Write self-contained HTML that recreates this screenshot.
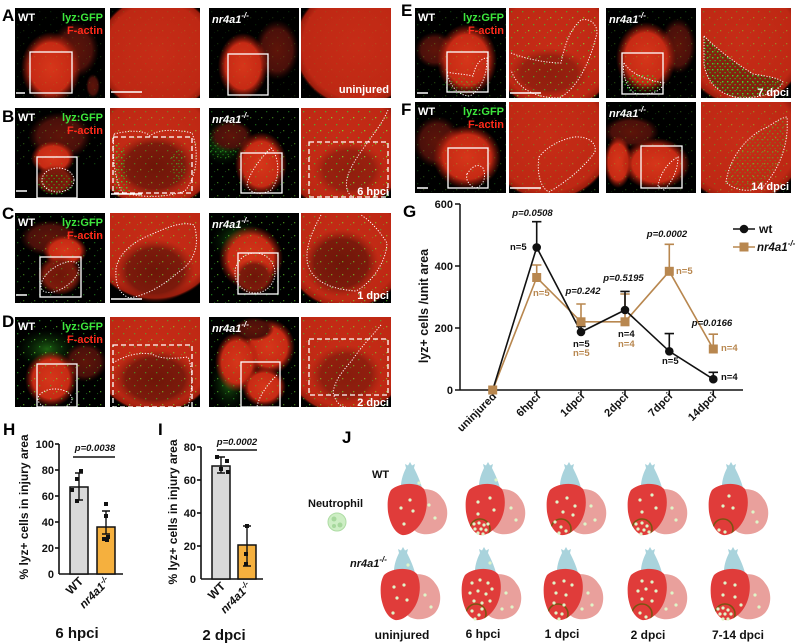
<!DOCTYPE html>
<html><head><meta charset="utf-8"><style>
html,body{margin:0;padding:0;background:#fff;}
svg{display:block;font-family:"Liberation Sans",Arial,sans-serif;}
.wl{fill:#fff;font-weight:bold;font-size:11px;}
.gl{fill:#3ce63c;font-weight:bold;font-size:11px;}
.rl{fill:#ff2a1a;font-weight:bold;font-size:11px;}
.pl{font-weight:bold;font-size:17px;fill:#000;}
.tk{font-weight:bold;font-size:11px;fill:#111;}
.pv{font-weight:bold;font-style:italic;font-size:9.5px;fill:#111;}
.nb{font-weight:bold;font-size:9.5px;fill:#111;}
.nn{font-weight:bold;font-size:9.5px;fill:#b8874f;}
.jl{font-weight:bold;font-size:12px;fill:#111;}
</style></head><body>
<svg width="799" height="644" viewBox="0 0 799 644" xmlns="http://www.w3.org/2000/svg">
<defs>
<radialGradient id="hr"><stop offset="0" stop-color="#d6361a"/><stop offset="0.7" stop-color="#c62a14"/><stop offset="1" stop-color="#a01808" stop-opacity="0"/></radialGradient>
<radialGradient id="dm"><stop offset="0" stop-color="#5e1409"/><stop offset="0.7" stop-color="#4a100a"/><stop offset="1" stop-color="#300804" stop-opacity="0"/></radialGradient>
<radialGradient id="dk"><stop offset="0" stop-color="#6e1608"/><stop offset="0.7" stop-color="#7c1a0c"/><stop offset="1" stop-color="#9a200e" stop-opacity="0"/></radialGradient>
<radialGradient id="fz"><stop offset="0" stop-color="#c62c16"/><stop offset="0.85" stop-color="#be2814"/><stop offset="0.95" stop-color="#9a1c0c"/><stop offset="1" stop-color="#000" stop-opacity="0"/></radialGradient>
<radialGradient id="gh"><stop offset="0" stop-color="#2a8a1a" stop-opacity="0.7"/><stop offset="1" stop-color="#0a3a08" stop-opacity="0"/></radialGradient>
<pattern id="gs" width="11" height="13" patternUnits="userSpaceOnUse"><rect x="2" y="3" width="1.3" height="1.3" fill="#3c3"/><rect x="8" y="9" width="1.3" height="1.3" fill="#7e3"/><rect x="5" y="11" width="1.1" height="1.1" fill="#4d4" opacity="0.6"/></pattern>
<pattern id="gd" width="5" height="6" patternUnits="userSpaceOnUse"><rect x="1" y="1" width="1.4" height="1.4" fill="#3d3"/><rect x="3.5" y="4" width="1.2" height="1.2" fill="#2c2"/></pattern>
<clipPath id="vc"><path d="M3,28 C12,20 30,20 36,27 C41,37 39,52 33,61 C28,69 20,74 14,73 C7,71 2,62 0,50 C-1,40 0,33 3,28 Z"/></clipPath>
<g id="hb">
<path d="M22,32 C32,24 48,26 54,36 C61,44 61,58 54,66 C46,74 32,74 26,68 C20,58 18,42 22,32 Z" fill="#e9a09c"/>
<path d="M13,30 C12,20 15,12 18,6 L17,2 L20,3.5 L22,0 L24,3.5 L27,2 L26,6 C29,12 33,20 35,30 Z" fill="#a9d3dc"/>
<path d="M3,28 C12,20 30,20 36,27 C41,37 39,52 33,61 C28,69 20,74 14,73 C7,71 2,62 0,50 C-1,40 0,33 3,28 Z" fill="#e03c3a"/>
</g>
<g id="inj"><circle cx="14" cy="67" r="10" fill="none" stroke="#7a5412" stroke-width="1.6" clip-path="url(#vc)"/></g>
</defs>

<text class="pl" x="2" y="21">A</text>
<text class="pl" x="2" y="122">B</text>
<text class="pl" x="2" y="219">C</text>
<text class="pl" x="2" y="327">D</text>
<text class="pl" x="401" y="16">E</text>
<text class="pl" x="401" y="115">F</text>
<text class="pl" x="403" y="217">G</text>
<text class="pl" x="3" y="435">H</text>
<text class="pl" x="158" y="435">I</text>
<text class="pl" x="342" y="443">J</text>

<!-- Row A -->
<svg x="15" y="8" width="90" height="90" viewBox="0 0 90 90">
<rect width="90" height="90" fill="#000"/>
<ellipse cx="60" cy="42" rx="24" ry="28" fill="url(#dm)"/>
<ellipse cx="78" cy="78" rx="7" ry="12" fill="url(#dm)"/>
<ellipse cx="36" cy="60" rx="30" ry="36" fill="url(#hr)"/>
<rect width="90" height="90" fill="url(#gs)" opacity="0.15"/>
<rect x="15" y="44" width="42" height="41" fill="none" stroke="#fff" stroke-width="1.3"/>
<line x1="1" y1="85" x2="10" y2="85" stroke="#fff" stroke-width="1.5"/>
<text class="wl" x="3" y="13">WT</text><text class="gl" x="88" y="13" text-anchor="end">lyz:GFP</text><text class="rl" x="88" y="26" text-anchor="end">F-actin</text>
</svg>
<svg x="110" y="8" width="90" height="90" viewBox="0 0 90 90">
<rect width="90" height="90" fill="#000"/>
<ellipse cx="48" cy="46" rx="62" ry="60" fill="url(#fz)"/>
<rect width="90" height="90" fill="url(#gs)" opacity="0.15"/>
<line x1="1" y1="84" x2="32" y2="84" stroke="#fff" stroke-width="1.5"/>
</svg>
<svg x="209" y="8" width="90" height="90" viewBox="0 0 90 90">
<rect width="90" height="90" fill="#000"/>
<ellipse cx="68" cy="42" rx="22" ry="30" fill="url(#dm)"/>
<ellipse cx="34" cy="58" rx="25" ry="33" fill="url(#hr)"/>
<rect width="90" height="90" fill="url(#gs)" opacity="0.15"/>
<rect x="19" y="46" width="40" height="41" fill="none" stroke="#fff" stroke-width="1.3"/>
<text class="wl" x="3" y="15" font-style="italic">nr4a1<tspan dy="-5" font-size="8">-/-</tspan></text>
</svg>
<svg x="301" y="8" width="90" height="90" viewBox="0 0 90 90">
<rect width="90" height="90" fill="#000"/>
<ellipse cx="56" cy="38" rx="64" ry="62" fill="url(#fz)"/>
<rect width="90" height="90" fill="url(#gs)" opacity="0.12"/>
<text class="wl" x="88" y="85" text-anchor="end">uninjured</text>
</svg>

<!-- Row B -->
<svg x="15" y="108" width="90" height="90" viewBox="0 0 90 90">
<rect width="90" height="90" fill="#000"/>
<ellipse cx="45" cy="28" rx="32" ry="24" fill="url(#dm)"/>
<ellipse cx="38" cy="50" rx="22" ry="17" fill="url(#hr)"/>
<ellipse cx="40" cy="72" rx="20" ry="15" fill="url(#dk)"/>
<ellipse cx="40" cy="76" rx="18" ry="11" fill="url(#gd)" opacity="0.7"/>
<rect width="90" height="60" fill="url(#gs)" opacity="0.3"/>
<rect x="22" y="49" width="40" height="41" fill="none" stroke="#fff" stroke-width="1.3"/>
<ellipse cx="43" cy="72" rx="16" ry="12" fill="none" stroke="#fff" stroke-width="1" stroke-dasharray="1.2 1.6"/>
<line x1="1" y1="83" x2="12" y2="83" stroke="#fff" stroke-width="1.5"/>
<text class="wl" x="3" y="13">WT</text><text class="gl" x="88" y="13" text-anchor="end">lyz:GFP</text><text class="rl" x="88" y="26" text-anchor="end">F-actin</text>
</svg>
<svg x="110" y="108" width="90" height="90" viewBox="0 0 90 90">
<rect width="90" height="90" fill="#000"/>
<ellipse cx="46" cy="40" rx="66" ry="62" fill="url(#fz)"/>
<ellipse cx="45" cy="58" rx="42" ry="32" fill="url(#dk)"/>
<rect width="90" height="90" fill="url(#gs)" opacity="0.5"/>
<path d="M4,35 L14,40 L18,80 L30,88 L4,88 Z" fill="url(#gd)" opacity="0.9"/>
<path d="M60,45 L72,40 L76,70 L64,75 Z" fill="url(#gd)" opacity="0.6"/>
<rect x="3" y="29" width="79" height="56" fill="none" stroke="#fff" stroke-width="1.3" stroke-dasharray="5 3"/>
<path d="M4,26 C20,22 34,22 40,28 C48,20 70,22 82,25 C90,45 86,70 75,83 C55,90 30,90 12,84 C4,70 2,45 4,26 Z" fill="none" stroke="#fff" stroke-width="1" stroke-dasharray="1.2 1.6"/>
<line x1="1" y1="86" x2="32" y2="86" stroke="#fff" stroke-width="1.5"/>
</svg>
<svg x="209" y="108" width="90" height="90" viewBox="0 0 90 90">
<rect width="90" height="90" fill="#000"/>
<ellipse cx="15" cy="35" rx="24" ry="22" fill="url(#gh)"/>
<ellipse cx="15" cy="35" rx="20" ry="15" fill="url(#gd)" opacity="0.5"/>
<ellipse cx="22" cy="28" rx="22" ry="16" fill="url(#dm)"/>
<ellipse cx="52" cy="56" rx="26" ry="32" fill="url(#hr)"/>
<rect width="90" height="90" fill="url(#gs)" opacity="0.45"/>
<rect x="32" y="45" width="41" height="40" fill="none" stroke="#fff" stroke-width="1.3"/>
<path d="M62,40 C70,48 72,70 62,82 C52,88 40,86 38,76 C42,62 52,50 62,40 Z" fill="none" stroke="#fff" stroke-width="1" stroke-dasharray="1.2 1.6"/>
<text class="wl" x="3" y="15" font-style="italic">nr4a1<tspan dy="-5" font-size="8">-/-</tspan></text>
</svg>
<svg x="301" y="108" width="90" height="90" viewBox="0 0 90 90">
<rect width="90" height="90" fill="#000"/>
<ellipse cx="42" cy="40" rx="66" ry="64" fill="url(#fz)"/>
<ellipse cx="48" cy="62" rx="36" ry="28" fill="url(#dk)" opacity="0.6"/>
<rect width="90" height="90" fill="url(#gs)" opacity="0.8"/>
<rect x="8" y="34" width="79" height="55" fill="none" stroke="#fff" stroke-width="1.3" stroke-dasharray="5 3"/>
<path d="M87,2 C80,20 60,40 50,60 C42,75 45,88 55,90" fill="none" stroke="#fff" stroke-width="1" stroke-dasharray="1.2 1.6"/>
<text class="wl" x="88" y="87" text-anchor="end">6 hpci</text>
</svg>

<!-- Row C -->
<svg x="15" y="213" width="90" height="90" viewBox="0 0 90 90">
<rect width="90" height="90" fill="#000"/>
<ellipse cx="35" cy="25" rx="30" ry="18" fill="url(#dm)"/>
<ellipse cx="50" cy="38" rx="22" ry="16" fill="url(#hr)"/>
<ellipse cx="45" cy="62" rx="22" ry="20" fill="url(#dk)"/>
<rect width="90" height="90" fill="url(#gs)" opacity="0.45"/>
<rect x="25" y="44" width="41" height="40" fill="none" stroke="#fff" stroke-width="1.3"/>
<ellipse cx="45" cy="64" rx="22" ry="11" transform="rotate(-35 45 64)" fill="none" stroke="#fff" stroke-width="1" stroke-dasharray="1.2 1.6"/>
<line x1="1" y1="82" x2="12" y2="82" stroke="#fff" stroke-width="1.5"/>
<text class="wl" x="3" y="13">WT</text><text class="gl" x="88" y="13" text-anchor="end">lyz:GFP</text><text class="rl" x="88" y="26" text-anchor="end">F-actin</text>
</svg>
<svg x="110" y="213" width="90" height="90" viewBox="0 0 90 90">
<rect width="90" height="90" fill="#000"/>
<ellipse cx="45" cy="30" rx="66" ry="58" fill="url(#fz)"/>
<ellipse cx="45" cy="58" rx="40" ry="32" fill="url(#dk)"/>
<rect width="90" height="70" fill="url(#gs)" opacity="0.55"/>
<path d="M6,62 C4,45 20,30 40,22 C58,14 72,8 84,12 C90,30 85,48 70,58 C60,66 45,80 20,85 C10,82 6,72 6,62 Z" fill="none" stroke="#fff" stroke-width="1" stroke-dasharray="1.2 1.6"/>
<line x1="1" y1="86" x2="32" y2="86" stroke="#fff" stroke-width="1.5"/>
</svg>
<svg x="209" y="213" width="90" height="90" viewBox="0 0 90 90">
<rect width="90" height="90" fill="#000"/>
<ellipse cx="30" cy="28" rx="28" ry="22" fill="url(#gh)"/>
<ellipse cx="42" cy="45" rx="32" ry="32" fill="url(#hr)"/>
<ellipse cx="45" cy="64" rx="20" ry="18" fill="url(#dk)"/>
<rect width="90" height="90" fill="url(#gs)" opacity="0.55"/>
<rect x="29" y="40" width="40" height="41" fill="none" stroke="#fff" stroke-width="1.3"/>
<circle cx="46" cy="60" r="20" fill="none" stroke="#fff" stroke-width="1" stroke-dasharray="1.2 1.6"/>
<text class="wl" x="3" y="15" font-style="italic">nr4a1<tspan dy="-5" font-size="8">-/-</tspan></text>
</svg>
<svg x="301" y="213" width="90" height="90" viewBox="0 0 90 90">
<rect width="90" height="90" fill="#000"/>
<ellipse cx="45" cy="35" rx="64" ry="62" fill="url(#fz)"/>
<ellipse cx="40" cy="50" rx="38" ry="34" fill="url(#dk)"/>
<rect width="90" height="90" fill="url(#gs)" opacity="0.6"/>
<path d="M20,2 C10,20 2,40 8,55 C14,68 28,76 55,78 C70,70 85,50 86,30 C80,20 70,8 60,2" fill="none" stroke="#fff" stroke-width="1" stroke-dasharray="1.2 1.6"/>
<text class="wl" x="88" y="86" text-anchor="end">1 dpci</text>
</svg>

<!-- Row D -->
<svg x="15" y="317" width="90" height="90" viewBox="0 0 90 90">
<rect width="90" height="90" fill="#000"/>
<ellipse cx="32" cy="32" rx="30" ry="20" fill="url(#gh)"/>
<ellipse cx="70" cy="45" rx="22" ry="20" fill="url(#dm)"/>
<ellipse cx="36" cy="62" rx="26" ry="28" fill="url(#hr)"/>
<rect width="90" height="90" fill="url(#gs)" opacity="0.6"/>
<rect x="22" y="47" width="40" height="43" fill="none" stroke="#fff" stroke-width="1.3"/>
<ellipse cx="40" cy="82" rx="17" ry="10" fill="none" stroke="#fff" stroke-width="1" stroke-dasharray="1.2 1.6"/>
<text class="wl" x="3" y="13">WT</text><text class="gl" x="88" y="13" text-anchor="end">lyz:GFP</text><text class="rl" x="88" y="26" text-anchor="end">F-actin</text>
</svg>
<svg x="110" y="317" width="90" height="90" viewBox="0 0 90 90">
<rect width="90" height="90" fill="#000"/>
<ellipse cx="45" cy="35" rx="66" ry="62" fill="url(#fz)"/>
<ellipse cx="45" cy="62" rx="42" ry="30" fill="url(#dk)"/>
<rect width="90" height="90" fill="url(#gs)" opacity="0.6"/>
<rect x="3" y="28" width="79" height="62" fill="none" stroke="#fff" stroke-width="1.3" stroke-dasharray="5 3"/>
<path d="M3,46 C15,38 30,35 42,37 C50,42 62,42 78,40 C84,55 82,75 78,90" fill="none" stroke="#fff" stroke-width="1" stroke-dasharray="1.2 1.6"/>
</svg>
<svg x="209" y="317" width="90" height="90" viewBox="0 0 90 90">
<rect width="90" height="90" fill="#000"/>
<ellipse cx="20" cy="65" rx="18" ry="28" fill="url(#gh)"/>
<ellipse cx="60" cy="30" rx="26" ry="28" fill="url(#hr)"/>
<ellipse cx="28" cy="45" rx="22" ry="30" fill="url(#hr)"/>
<ellipse cx="55" cy="70" rx="22" ry="20" fill="url(#hr)"/>
<ellipse cx="45" cy="12" rx="20" ry="12" fill="url(#dm)"/>
<rect width="90" height="90" fill="url(#gs)" opacity="0.5"/>
<rect x="32" y="45" width="39" height="45" fill="none" stroke="#fff" stroke-width="1.3"/>
<path d="M68,58 C60,66 50,78 48,90" fill="none" stroke="#fff" stroke-width="1" stroke-dasharray="1.2 1.6"/>
<text class="wl" x="3" y="15" font-style="italic">nr4a1<tspan dy="-5" font-size="8">-/-</tspan></text>
</svg>
<svg x="301" y="317" width="90" height="90" viewBox="0 0 90 90">
<rect width="90" height="90" fill="#000"/>
<ellipse cx="45" cy="35" rx="66" ry="64" fill="url(#fz)"/>
<ellipse cx="45" cy="58" rx="36" ry="30" fill="url(#dk)" opacity="0.7"/>
<rect width="90" height="90" fill="url(#gs)" opacity="0.6"/>
<rect x="8" y="22" width="79" height="56" fill="none" stroke="#fff" stroke-width="1.3" stroke-dasharray="5 3"/>
<path d="M80,8 C70,20 60,30 52,42 C44,52 35,60 32,75 C34,85 40,90 45,90" fill="none" stroke="#fff" stroke-width="1" stroke-dasharray="1.2 1.6"/>
<text class="wl" x="88" y="89" text-anchor="end">2 dpci</text>
</svg>

<!-- Row E -->
<svg x="415" y="8" width="91" height="90" viewBox="0 0 91 90">
<rect width="91" height="90" fill="#000"/>
<ellipse cx="20" cy="42" rx="20" ry="18" fill="url(#dm)"/>
<ellipse cx="52" cy="52" rx="30" ry="36" fill="url(#hr)"/>
<ellipse cx="45" cy="78" rx="18" ry="8" fill="url(#gd)" opacity="0.5"/>
<rect width="91" height="90" fill="url(#gs)" opacity="0.25"/>
<rect x="32" y="44" width="41" height="40" fill="none" stroke="#fff" stroke-width="1.3"/>
<path d="M32,64 C40,66 50,66 58,68 C60,58 65,50 72,50 C72,65 68,80 55,88 C45,88 35,80 32,64 Z" fill="none" stroke="#fff" stroke-width="1" stroke-dasharray="1.2 1.6"/>
<line x1="2" y1="85" x2="13" y2="85" stroke="#fff" stroke-width="1.5"/>
<text class="wl" x="3" y="13">WT</text><text class="gl" x="89" y="13" text-anchor="end">lyz:GFP</text><text class="rl" x="89" y="26" text-anchor="end">F-actin</text>
</svg>
<svg x="509" y="8" width="90" height="90" viewBox="0 0 90 90">
<rect width="90" height="90" fill="#000"/>
<ellipse cx="46" cy="40" rx="66" ry="64" fill="url(#fz)"/>
<ellipse cx="40" cy="65" rx="40" ry="25" fill="url(#dk)" opacity="0.6"/>
<rect width="90" height="90" fill="url(#gs)" opacity="0.7"/>
<path d="M2,45 C20,52 40,55 52,55 C55,40 60,22 72,12 C80,10 88,15 88,25 C82,50 70,80 50,90 C25,90 8,80 2,62" fill="none" stroke="#fff" stroke-width="1" stroke-dasharray="1.2 1.6"/>
<line x1="1" y1="85" x2="32" y2="85" stroke="#fff" stroke-width="1.5"/>
</svg>
<svg x="606" y="8" width="90" height="90" viewBox="0 0 90 90">
<rect width="90" height="90" fill="#000"/>
<ellipse cx="72" cy="38" rx="18" ry="28" fill="url(#dm)"/>
<ellipse cx="40" cy="50" rx="30" ry="36" fill="url(#hr)"/>
<ellipse cx="36" cy="76" rx="20" ry="10" fill="url(#gd)" opacity="0.9"/>
<rect width="90" height="90" fill="url(#gs)" opacity="0.25"/>
<rect x="16" y="45" width="41" height="41" fill="none" stroke="#fff" stroke-width="1.3"/>
<path d="M18,55 C25,66 40,72 58,75 C55,85 40,88 28,85 C20,78 16,65 18,55 Z" fill="none" stroke="#fff" stroke-width="1" stroke-dasharray="1.2 1.6"/>
<text class="wl" x="3" y="15" font-style="italic">nr4a1<tspan dy="-5" font-size="8">-/-</tspan></text>
</svg>
<svg x="701" y="8" width="90" height="90" viewBox="0 0 90 90">
<rect width="90" height="90" fill="#000"/>
<ellipse cx="42" cy="35" rx="64" ry="64" fill="url(#fz)"/>
<path d="M3,28 C15,40 30,52 52,66 C65,68 78,70 82,74 C78,84 60,90 40,90 C20,88 5,75 3,55 Z" fill="#4a1a08" opacity="0.5"/>
<path d="M3,28 C15,40 30,52 52,66 C65,68 78,70 82,74 C78,84 60,90 40,90 C20,88 5,75 3,55 Z" fill="url(#gd)"/>
<rect width="90" height="90" fill="url(#gs)" opacity="0.45"/>
<path d="M3,28 C15,40 30,52 52,66 C65,68 78,70 82,74 C78,84 60,90 40,90 C20,88 5,75 3,55 Z" fill="none" stroke="#fff" stroke-width="1" stroke-dasharray="1.2 1.6"/>
<text class="wl" x="88" y="88" text-anchor="end">7 dpci</text>
</svg>

<!-- Row F -->
<svg x="415" y="102" width="91" height="91" viewBox="0 0 91 91">
<rect width="91" height="91" fill="#000"/>
<ellipse cx="22" cy="40" rx="24" ry="26" fill="url(#dm)"/>
<ellipse cx="52" cy="55" rx="34" ry="32" fill="url(#hr)"/>
<rect width="91" height="91" fill="url(#gs)" opacity="0.25"/>
<rect x="33" y="46" width="40" height="40" fill="none" stroke="#fff" stroke-width="1.3"/>
<path d="M52,72 C56,66 62,60 68,66 C72,75 68,85 60,86 C55,84 50,78 52,72 Z" fill="none" stroke="#fff" stroke-width="1" stroke-dasharray="1.2 1.6"/>
<line x1="2" y1="86" x2="13" y2="86" stroke="#fff" stroke-width="1.5"/>
<text class="wl" x="3" y="13">WT</text><text class="gl" x="89" y="13" text-anchor="end">lyz:GFP</text><text class="rl" x="89" y="26" text-anchor="end">F-actin</text>
</svg>
<svg x="509" y="102" width="90" height="91" viewBox="0 0 90 91">
<rect width="90" height="91" fill="#000"/>
<ellipse cx="40" cy="35" rx="66" ry="64" fill="url(#fz)"/>
<rect width="90" height="91" fill="url(#gs)" opacity="0.35"/>
<path d="M30,55 C38,45 50,38 65,35 C78,34 88,40 86,50 C75,65 60,78 40,90 C30,85 28,68 30,55 Z" fill="none" stroke="#fff" stroke-width="1" stroke-dasharray="1.2 1.6"/>
<line x1="1" y1="86" x2="32" y2="86" stroke="#fff" stroke-width="1.5"/>
</svg>
<svg x="606" y="102" width="90" height="91" viewBox="0 0 90 91">
<rect width="90" height="91" fill="#000"/>
<ellipse cx="25" cy="30" rx="28" ry="16" fill="url(#dm)"/>
<ellipse cx="12" cy="60" rx="14" ry="26" fill="url(#hr)"/>
<ellipse cx="50" cy="62" rx="34" ry="26" fill="url(#hr)"/>
<rect width="90" height="91" fill="url(#gs)" opacity="0.25"/>
<rect x="35" y="44" width="41" height="42" fill="none" stroke="#fff" stroke-width="1.3"/>
<path d="M52,84 C54,72 62,60 72,55 C72,68 66,80 58,88 Z" fill="none" stroke="#fff" stroke-width="1" stroke-dasharray="1.2 1.6"/>
<text class="wl" x="3" y="15" font-style="italic">nr4a1<tspan dy="-5" font-size="8">-/-</tspan></text>
</svg>
<svg x="701" y="102" width="90" height="91" viewBox="0 0 90 91">
<rect width="90" height="91" fill="#000"/>
<ellipse cx="40" cy="38" rx="66" ry="64" fill="url(#fz)"/>
<path d="M25,80 C28,60 40,40 60,28 C70,24 78,16 86,15 C88,40 80,65 62,85 C50,90 35,90 25,80 Z" fill="url(#gd)" opacity="0.5"/>
<rect width="90" height="91" fill="url(#gs)" opacity="0.45"/>
<path d="M25,80 C28,60 40,40 60,28 C70,24 78,16 86,15 C88,40 80,65 62,85 C50,90 35,90 25,80 Z" fill="none" stroke="#fff" stroke-width="1" stroke-dasharray="1.2 1.6"/>
<text class="wl" x="88" y="88" text-anchor="end">14 dpci</text>
</svg>

<!-- Panel G chart -->
<g stroke="#111" stroke-width="1.5" fill="none">
<line x1="460" y1="204" x2="460" y2="390"/>
<line x1="460" y1="390" x2="743" y2="390"/>
<line x1="455" y1="204" x2="460" y2="204"/><line x1="455" y1="266" x2="460" y2="266"/><line x1="455" y1="328" x2="460" y2="328"/><line x1="455" y1="390" x2="460" y2="390"/>
<line x1="492.7" y1="390" x2="492.7" y2="395"/><line x1="536.7" y1="390" x2="536.7" y2="395"/><line x1="581" y1="390" x2="581" y2="395"/><line x1="625" y1="390" x2="625" y2="395"/><line x1="669.3" y1="390" x2="669.3" y2="395"/><line x1="713.3" y1="390" x2="713.3" y2="395"/>
</g>
<g class="tk" text-anchor="end">
<text x="453" y="208">600</text><text x="453" y="270">400</text><text x="453" y="332">200</text><text x="453" y="394">0</text>
</g>
<text x="428" y="306" transform="rotate(-90 428 306)" text-anchor="middle" font-weight="bold" font-size="12.5" fill="#111">lyz+ cells /unit area</text>
<g class="tk" text-anchor="end">
<text transform="translate(497,397) rotate(-45)">uninjured</text>
<text transform="translate(541,397) rotate(-45)">6hpci</text>
<text transform="translate(585,397) rotate(-45)">1dpci</text>
<text transform="translate(629,397) rotate(-45)">2dpci</text>
<text transform="translate(673,397) rotate(-45)">7dpci</text>
<text transform="translate(717,397) rotate(-45)">14dpci</text>
</g>
<g stroke="#b8874f" stroke-width="1.6" fill="none">
<path d="M536.7,277.5 V265 M532,265 H541.4 M581,321.8 V304 M576.3,304 H585.7 M625,321.8 V294 M620.3,294 H629.7 M669.3,271.3 V244.3 M664.6,244.3 H674 M713.3,349 V334.2 M708.6,334.2 H718"/>
<polyline points="492.7,390 536.7,277.5 581,321.8 625,321.8 669.3,271.3 713.3,349"/>
</g>
<g stroke="#111" stroke-width="1.6" fill="none">
<path d="M536.7,247.4 V221.7 M532,221.7 H541.4 M581,332 V326.5 M576.3,326.5 H585.7 M625,310 V291.4 M620.3,291.4 H629.7 M669.3,351.3 V333.6 M664.6,333.6 H674 M713.3,379.2 V372.3 M708.6,372.3 H718"/>
<polyline points="492.7,390 536.7,247.4 581,332 625,310 669.3,351.3 713.3,379.2"/>
</g>
<g fill="#111">
<circle cx="536.7" cy="247.4" r="4.3"/><circle cx="581" cy="332" r="4.3"/><circle cx="625" cy="310" r="4.3"/><circle cx="669.3" cy="351.3" r="4.3"/><circle cx="713.3" cy="379.2" r="4.3"/>
</g>
<g fill="#b8874f">
<rect x="488.2" y="385.5" width="9" height="9"/><rect x="532.2" y="273" width="9" height="9"/><rect x="576.5" y="317.3" width="9" height="9"/><rect x="620.5" y="317.3" width="9" height="9"/><rect x="664.8" y="266.8" width="9" height="9"/><rect x="708.8" y="344.5" width="9" height="9"/>
</g>
<g class="pv" text-anchor="middle">
<text x="532.5" y="216">p=0.0508</text>
<text x="667" y="237">p=0.0002</text>
<text x="623.5" y="281">p=0.5195</text>
<text x="583" y="294">p=0.242</text>
<text x="712" y="326">p=0.0166</text>
</g>
<g class="nb">
<text x="510" y="250">n=5</text><text x="573" y="347">n=5</text><text x="618" y="337">n=4</text><text x="662" y="364">n=5</text><text x="721" y="380">n=4</text>
</g>
<g class="nn">
<text x="533" y="296">n=5</text><text x="573" y="356">n=5</text><text x="618" y="347">n=4</text><text x="676" y="274">n=5</text><text x="721" y="351">n=4</text>
</g>
<line x1="733" y1="229" x2="755" y2="229" stroke="#111" stroke-width="1.6"/><circle cx="744" cy="229" r="4.3" fill="#111"/>
<text x="759" y="233" font-weight="bold" font-size="12" fill="#111">wt</text>
<line x1="733" y1="247" x2="755" y2="247" stroke="#b8874f" stroke-width="1.6"/><rect x="739.5" y="242.5" width="9" height="9" fill="#b8874f"/>
<text x="757" y="251" font-weight="bold" font-style="italic" font-size="11.5" fill="#111">nr4a1<tspan dy="-5" font-size="8">-/-</tspan></text>

<!-- Panel H -->
<g stroke="#111" stroke-width="1.6" fill="none">
<line x1="59" y1="444" x2="59" y2="574"/><line x1="59" y1="574" x2="123" y2="574"/>
<line x1="55" y1="444" x2="59" y2="444"/><line x1="55" y1="470" x2="59" y2="470"/><line x1="55" y1="496" x2="59" y2="496"/><line x1="55" y1="522" x2="59" y2="522"/><line x1="55" y1="548" x2="59" y2="548"/>
</g>
<g class="tk" text-anchor="end">
<text x="54" y="448">100</text><text x="54" y="474">80</text><text x="54" y="500">60</text><text x="54" y="526">40</text><text x="54" y="552">20</text><text x="54" y="578">0</text>
</g>
<rect x="70" y="487" width="18" height="87" fill="#d9d9d9" stroke="#111" stroke-width="1.5"/>
<rect x="97" y="527" width="18" height="47" fill="#f5b03e" stroke="#111" stroke-width="1.5"/>
<path d="M79,487 V473 M75,473 H83 M79,487 V500 M75,500 H83 M106,527 V511 M102,511 H110 M106,527 V534 M102,534 H110" stroke="#111" stroke-width="1.4"/>
<g fill="#111"><rect x="79" y="469" width="4" height="4"/><rect x="75" y="477" width="4" height="4"/><rect x="75" y="499" width="4" height="4"/><rect x="70" y="488" width="4" height="4"/>
<rect x="104" y="502" width="4" height="4"/><rect x="104" y="514" width="4" height="4"/><rect x="102" y="537" width="4" height="4"/><rect x="105" y="538" width="4" height="4"/><rect x="106" y="535" width="4" height="4"/></g>
<line x1="73" y1="457" x2="115" y2="457" stroke="#111" stroke-width="1.6"/>
<text class="pv" x="95" y="451" text-anchor="middle" font-size="10">p=0.0038</text>
<text x="28" y="507" transform="rotate(-90 28 507)" text-anchor="middle" font-weight="bold" font-size="12" fill="#111">% lyz+ cells in injury area</text>
<g class="tk" text-anchor="end" font-size="12">
<text transform="translate(84,582) rotate(-45)" font-size="12">WT</text>
<text transform="translate(111,582) rotate(-45)" font-size="11.5" font-style="italic">nr4a1<tspan dy="-4" font-size="8">-/-</tspan></text>
</g>
<text x="77" y="638" text-anchor="middle" font-weight="bold" font-size="15" fill="#111">6 hpci</text>

<!-- Panel I -->
<g stroke="#111" stroke-width="1.6" fill="none">
<line x1="201" y1="447" x2="201" y2="579"/><line x1="201" y1="579" x2="263" y2="579"/>
<line x1="197" y1="447" x2="201" y2="447"/><line x1="197" y1="480" x2="201" y2="480"/><line x1="197" y1="513" x2="201" y2="513"/><line x1="197" y1="546" x2="201" y2="546"/>
</g>
<g class="tk" text-anchor="end">
<text x="196" y="451">80</text><text x="196" y="484">60</text><text x="196" y="517">40</text><text x="196" y="550">20</text><text x="196" y="583">0</text>
</g>
<rect x="212" y="466" width="18" height="113" fill="#d9d9d9" stroke="#111" stroke-width="1.5"/>
<rect x="238" y="545" width="18" height="34" fill="#f5b03e" stroke="#111" stroke-width="1.5"/>
<path d="M221,466 V457 M217,457 H225 M221,466 V473 M217,473 H225 M247,545 V526 M243,526 H251 M247,545 V566 M243,566 H251" stroke="#111" stroke-width="1.4"/>
<g fill="#111"><rect x="215" y="455" width="4" height="4"/><rect x="219" y="467" width="4" height="4"/><rect x="225" y="459" width="4" height="4"/><rect x="226" y="470" width="4" height="4"/>
<rect x="245" y="524" width="4" height="4"/><rect x="244" y="552" width="4" height="4"/><rect x="244" y="562" width="4" height="4"/></g>
<line x1="217" y1="450" x2="257" y2="450" stroke="#111" stroke-width="1.6"/>
<text class="pv" x="237" y="445" text-anchor="middle" font-size="10">p=0.0002</text>
<text x="177" y="512" transform="rotate(-90 177 512)" text-anchor="middle" font-weight="bold" font-size="12" fill="#111">% lyz+ cells in injury area</text>
<g class="tk" text-anchor="end">
<text transform="translate(226,587) rotate(-45)" font-size="12">WT</text>
<text transform="translate(252,587) rotate(-45)" font-size="11.5" font-style="italic">nr4a1<tspan dy="-4" font-size="8">-/-</tspan></text>
</g>
<text x="224" y="640" text-anchor="middle" font-weight="bold" font-size="15" fill="#111">2 dpci</text>

<!-- Panel J -->
<text x="372" y="478" font-weight="bold" font-size="11" fill="#111">WT</text>
<text x="308" y="507" font-weight="bold" font-size="11" fill="#111">Neutrophil</text>
<circle cx="337" cy="522" r="9" fill="#cdeec4" stroke="#aedca4" stroke-width="1"/>
<circle cx="334" cy="519" r="2.5" fill="#a6d89c"/><circle cx="340" cy="525" r="2.5" fill="#a6d89c"/><circle cx="334" cy="526" r="2" fill="#a6d89c"/>
<text x="350" y="567" font-weight="bold" font-style="italic" font-size="11" fill="#111">nr4a1<tspan dy="-5" font-size="8">-/-</tspan></text>

<g fill="#dff5c8">
<g transform="translate(388,462)"><use href="#hb"/>
<circle cx="13" cy="46" r="1.6"/><circle cx="22" cy="38" r="1.6"/><circle cx="25" cy="49" r="1.6"/><circle cx="16" cy="62" r="1.6"/><circle cx="41" cy="43" r="1.6"/><circle cx="47" cy="56" r="1.6"/><circle cx="31" cy="21" r="1.6"/></g>
<g transform="translate(466,462)"><use href="#hb"/><use href="#inj"/>
<circle cx="12" cy="40" r="1.6"/><circle cx="24" cy="36" r="1.6"/><circle cx="28" cy="48" r="1.6"/><circle cx="12" cy="52" r="1.6"/><circle cx="45" cy="46" r="1.6"/><circle cx="50" cy="58" r="1.6"/><circle cx="30" cy="18" r="1.6"/>
<circle cx="8" cy="62" r="1.6"/><circle cx="13" cy="61" r="1.6"/><circle cx="18" cy="63" r="1.6"/><circle cx="9" cy="67" r="1.6"/><circle cx="15" cy="67" r="1.6"/><circle cx="20" cy="68" r="1.6"/><circle cx="12" cy="71" r="1.6"/><circle cx="17" cy="72" r="1.6"/><circle cx="22" cy="62" r="1.6"/></g>
<g transform="translate(547,462)"><use href="#hb"/><use href="#inj"/>
<circle cx="10" cy="40" r="1.6"/><circle cx="20" cy="36" r="1.6"/><circle cx="28" cy="44" r="1.6"/><circle cx="16" cy="50" r="1.6"/><circle cx="26" cy="53" r="1.6"/><circle cx="44" cy="44" r="1.6"/><circle cx="48" cy="58" r="1.6"/><circle cx="38" cy="62" r="1.6"/>
<circle cx="8" cy="60" r="1.6"/><circle cx="14" cy="65" r="1.6"/><circle cx="19" cy="69" r="1.6"/><circle cx="12" cy="71" r="1.6"/></g>
<g transform="translate(628,462)"><use href="#hb"/><use href="#inj"/>
<circle cx="12" cy="38" r="1.6"/><circle cx="24" cy="33" r="1.6"/><circle cx="28" cy="46" r="1.6"/><circle cx="14" cy="50" r="1.6"/><circle cx="44" cy="46" r="1.6"/><circle cx="48" cy="58" r="1.6"/>
<circle cx="8" cy="62" r="1.6"/><circle cx="14" cy="61" r="1.6"/><circle cx="19" cy="64" r="1.6"/><circle cx="10" cy="67" r="1.6"/><circle cx="16" cy="68" r="1.6"/><circle cx="13" cy="72" r="1.6"/><circle cx="21" cy="70" r="1.6"/></g>
<g transform="translate(709,462)"><use href="#hb"/><use href="#inj"/>
<circle cx="20" cy="34" r="1.6"/><circle cx="24" cy="46" r="1.6"/><circle cx="14" cy="44" r="1.6"/><circle cx="44" cy="50" r="1.6"/><circle cx="48" cy="60" r="1.6"/><circle cx="10" cy="68" r="1.6"/><circle cx="16" cy="70" r="1.6"/></g>
<g transform="translate(381,547)"><use href="#hb"/>
<circle cx="13" cy="40" r="1.6"/><circle cx="23" cy="38" r="1.6"/><circle cx="16" cy="51" r="1.6"/><circle cx="26" cy="53" r="1.6"/><circle cx="12" cy="66" r="1.6"/><circle cx="44" cy="48" r="1.6"/><circle cx="50" cy="60" r="1.6"/><circle cx="27" cy="18" r="1.6"/></g>
<g transform="translate(462,547)"><use href="#hb"/><use href="#inj"/>
<circle cx="10" cy="36" r="1.6"/><circle cx="18" cy="33" r="1.6"/><circle cx="26" cy="36" r="1.6"/><circle cx="8" cy="46" r="1.6"/><circle cx="16" cy="44" r="1.6"/><circle cx="24" cy="47" r="1.6"/><circle cx="30" cy="42" r="1.6"/><circle cx="12" cy="54" r="1.6"/><circle cx="20" cy="56" r="1.6"/><circle cx="28" cy="54" r="1.6"/>
<circle cx="44" cy="46" r="1.6"/><circle cx="50" cy="60" r="1.6"/><circle cx="40" cy="62" r="1.6"/><circle cx="10" cy="64" r="1.6"/><circle cx="17" cy="68" r="1.6"/><circle cx="20" cy="62" r="1.6"/><circle cx="13" cy="72" r="1.6"/><circle cx="28" cy="16" r="1.6"/></g>
<g transform="translate(544,547)"><use href="#hb"/><use href="#inj"/>
<circle cx="10" cy="36" r="1.6"/><circle cx="20" cy="34" r="1.6"/><circle cx="28" cy="38" r="1.6"/><circle cx="12" cy="46" r="1.6"/><circle cx="22" cy="48" r="1.6"/><circle cx="10" cy="56" r="1.6"/><circle cx="20" cy="58" r="1.6"/><circle cx="44" cy="46" r="1.6"/><circle cx="48" cy="58" r="1.6"/><circle cx="38" cy="62" r="1.6"/>
<circle cx="12" cy="66" r="1.6"/><circle cx="18" cy="67" r="1.6"/><circle cx="15" cy="72" r="1.6"/></g>
<g transform="translate(628,547)"><use href="#hb"/><use href="#inj"/>
<circle cx="14" cy="34" r="1.6"/><circle cx="24" cy="35" r="1.6"/><circle cx="10" cy="44" r="1.6"/><circle cx="18" cy="42" r="1.6"/><circle cx="28" cy="44" r="1.6"/><circle cx="14" cy="52" r="1.6"/><circle cx="24" cy="54" r="1.6"/><circle cx="44" cy="46" r="1.6"/><circle cx="48" cy="58" r="1.6"/><circle cx="38" cy="62" r="1.6"/>
<circle cx="12" cy="66" r="1.6"/><circle cx="18" cy="70" r="1.6"/></g>
<g transform="translate(711,547)"><use href="#hb"/><use href="#inj"/>
<circle cx="14" cy="36" r="1.6"/><circle cx="24" cy="38" r="1.6"/><circle cx="12" cy="48" r="1.6"/><circle cx="24" cy="50" r="1.6"/><circle cx="30" cy="58" r="1.6"/><circle cx="44" cy="48" r="1.6"/><circle cx="48" cy="60" r="1.6"/>
<circle cx="7" cy="62" r="1.6"/><circle cx="12" cy="61" r="1.6"/><circle cx="17" cy="63" r="1.6"/><circle cx="9" cy="67" r="1.6"/><circle cx="14" cy="67" r="1.6"/><circle cx="20" cy="67" r="1.6"/><circle cx="12" cy="72" r="1.6"/><circle cx="17" cy="72" r="1.6"/></g>
</g>
<g class="jl" text-anchor="middle">
<text x="402" y="639">uninjured</text>
<text x="483" y="638">6 hpci</text>
<text x="562" y="638">1 dpci</text>
<text x="648" y="639">2 dpci</text>
<text x="738" y="639">7-14 dpci</text>
</g>
</svg>
</body></html>
